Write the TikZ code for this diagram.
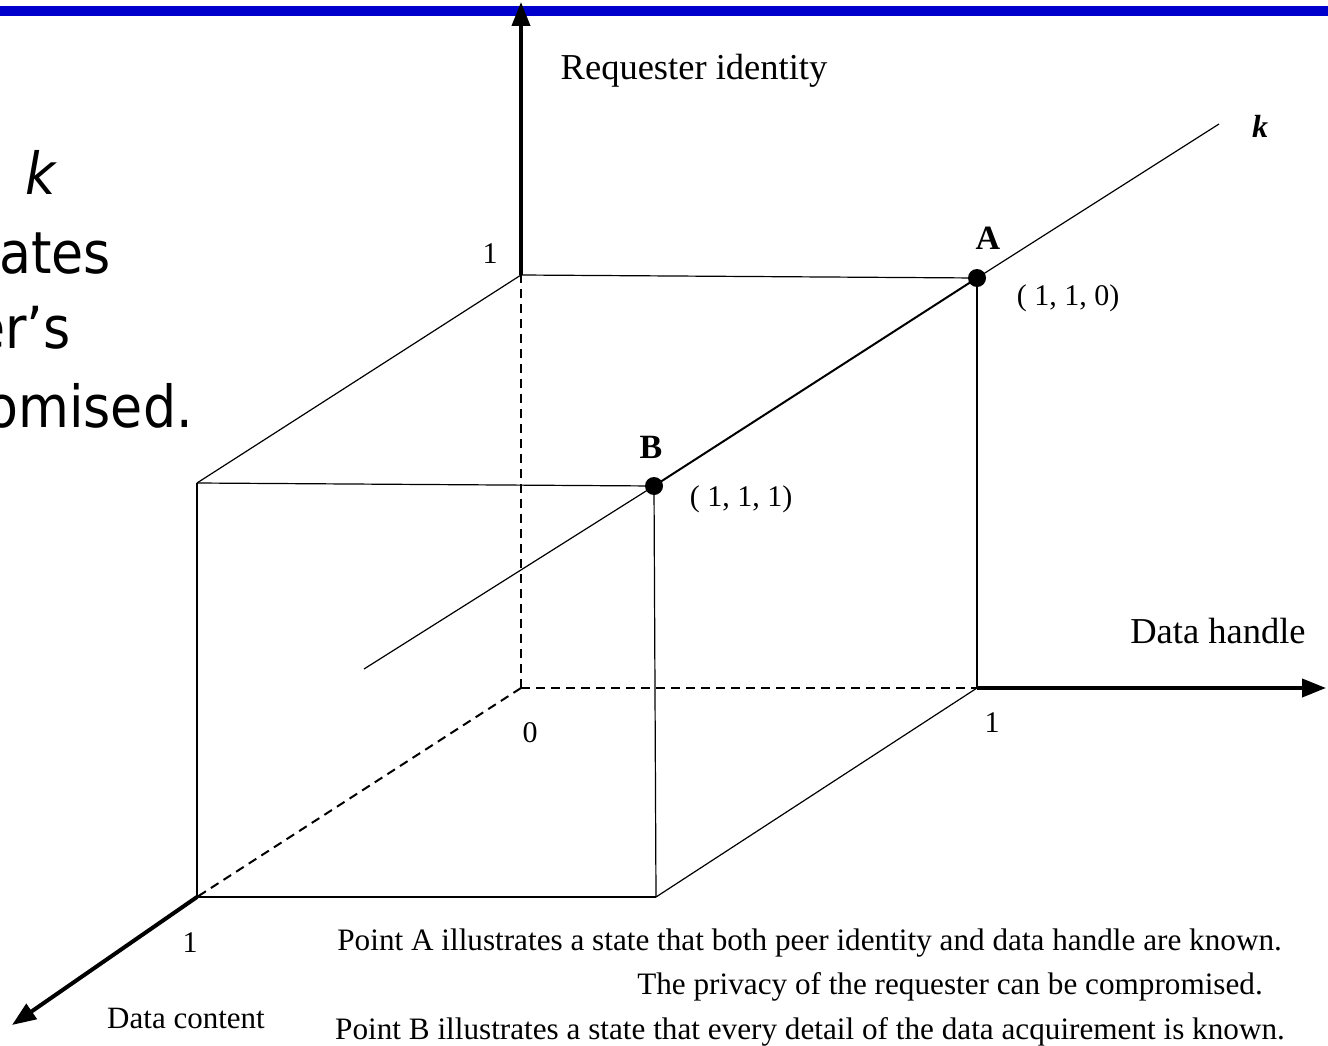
\documentclass[tikz,border=0pt]{standalone}
\usepackage{fontspec}
\setmainfont{Liberation Serif}
\newfontfamily\tah[FakeStretch=0.9]{DejaVu Sans}
\usetikzlibrary{arrows.meta}
\definecolor{barblue}{RGB}{0,0,204}
\tikzset{
  edge/.style={line width=1.2pt},
  axis/.style={line width=4pt, -{Triangle[length=24pt,width=18pt]}},
  dashedge/.style={line width=2pt, dash pattern=on 9pt off 6pt},
  lbl/.style={inner sep=0pt},
  num/.style={lbl, font=\fontsize{30}{32}\selectfont},
  axlbl/.style={lbl, font=\fontsize{36.5}{40}\selectfont},
  note/.style={lbl, font=\fontsize{31.2}{34}\selectfont, anchor=base east},
  pt/.style={lbl, font=\fontsize{34}{36}\selectfont\bfseries},
  coord/.style={lbl, font=\fontsize{30}{32}\selectfont},
  side/.style={lbl, font=\tah\fontsize{58}{60}\selectfont, anchor=base east},
  dot/.style={circle, fill=black, minimum size=18pt, inner sep=0pt}
}
\begin{document}
\begin{tikzpicture}[x=1pt,y=-1pt]
\useasboundingbox (0,0) rectangle (1328,1046);
\fill[barblue] (0,6) rectangle (1328,16);
% side text (clipped at the left edge, as in the reference)
\node[lbl, font=\tah\itshape\fontsize{58}{60}\selectfont, anchor=base west] (sk) at (25,194) {k};
\node[side] (s1) at (111,273) {ates};
\node[side] (s2) at (71,348) {er’s};
\node[side] (s3) at (193,427) {omised.};
% corners
\coordinate (O) at (521,688);
\coordinate (T) at (521,275);
\coordinate (Top) at (521,2);
\coordinate (R) at (977,688);
\coordinate (Rend) at (1326,688);
\coordinate (F) at (197,897);
\coordinate (Fend) at (12,1025);
\coordinate (A) at (977,278);
\coordinate (FTL) at (197,483);
\coordinate (B) at (654,486);
\coordinate (FBR) at (656,897);
\coordinate (K0) at (364,669);
\coordinate (K1) at (1219,124);
% dashed hidden edges
\draw[dashedge] (O) -- (T);
\draw[dashedge] (O) -- (R);
\draw[dashedge] (O) -- (F);
% cube edges
\draw[edge] (T) -- (A);
\draw[edge] (A) -- (R);
\draw[edge] (T) -- (FTL);
\draw[edge] (FTL) -- (B);
\draw[edge] (FTL) -- (F);
\draw[edge] (B) -- (FBR);
\draw[edge] (F) -- (FBR);
\draw[edge] (FBR) -- (R);
% k line
\draw[edge] (K0) -- (B);
\draw[line width=2pt] (B) -- (A);
\draw[edge] (A) -- (K1);
% axes
\draw[axis] (T) -- (Top);
\draw[axis] (R) -- (Rend);
\draw[axis] (F) -- (Fend);
% dots
\node[dot] (dA) at (A) {};
\node[dot] (dB) at (B) {};
% labels
\node[axlbl] (ly) at (694,71) {Requester identity};
\node[axlbl] (lx) at (1218,631) {Data handle};
\node[axlbl, font=\fontsize{31}{34}\selectfont] (lz) at (186,1018) {Data content};
\node[num] (n1) at (490,254) {1};
\node[num] (n0) at (530,733) {0};
\node[num] (n2) at (992,723) {1};
\node[num] (n3) at (190,943) {1};
\node[pt] (pA) at (988,238) {A};
\node[pt] (pB) at (651,447) {B};
\node[coord] (cA) at (1068,298) {( 1, 1, 0)};
\node[coord] (cB) at (741,499) {( 1, 1, 1)};
\node[lbl, font=\fontsize{32}{34}\selectfont\bfseries\itshape] (kl) at (1260,126) {k};
% notes
\node[note] (t1) at (1282,950) {Point A illustrates a state that both peer identity and data handle are known.};
\node[note] (t2) at (1263,994) {The privacy of the requester can be compromised.};
\node[note] (t3) at (1285,1039) {Point B illustrates a state that every detail of the data acquirement is known.};
\end{tikzpicture}
\end{document}
